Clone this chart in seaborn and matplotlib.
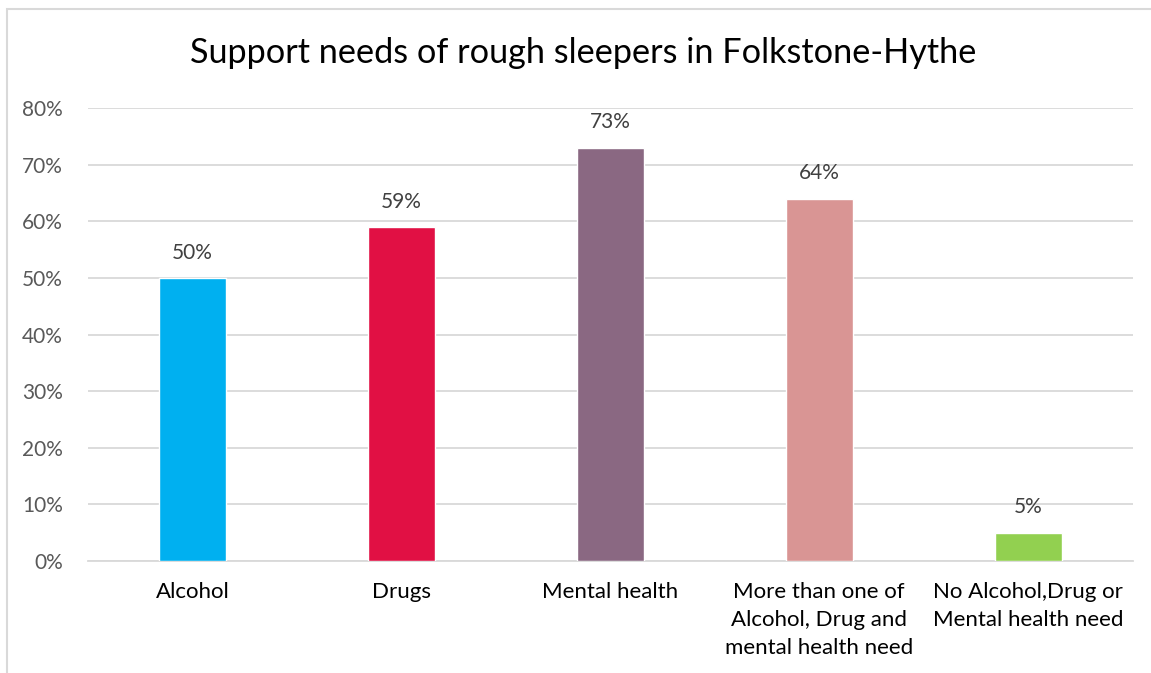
import matplotlib
matplotlib.use("Agg")
import matplotlib.pyplot as plt
from matplotlib.patches import Rectangle
from matplotlib.ticker import FuncFormatter, MultipleLocator
import seaborn as sns
import pandas as pd

categories = [
    "Alcohol",
    "Drugs",
    "Mental health",
    "More than one of\nAlcohol, Drug and\nmental health need",
    "No Alcohol,Drug or\nMental health need",
]
shares = [0.50, 0.59, 0.73, 0.64, 0.05]
bar_colors = ["#00B0F0", "#E11044", "#8A6882", "#D99594", "#92D050"]
title = "Support needs of rough sleepers in Folkstone-Hythe"

sns.set_theme(style="white")
plt.rcParams["font.family"] = ["Lato", "DejaVu Sans"]

df = pd.DataFrame({"need": categories, "share": shares})

fig = plt.figure(figsize=(11.51, 6.73), dpi=100)
ax = fig.add_axes([0.0765, 0.1664, 0.9075, 0.6731])

sns.barplot(data=df, x="need", y="share", hue="need", palette=bar_colors,
            legend=False, width=0.32, saturation=1, ax=ax, zorder=3)

ax.set_ylim(0, 0.8)
ax.set_xlim(-0.5, len(categories) - 0.5)
ax.yaxis.set_major_locator(MultipleLocator(0.1))
ax.yaxis.set_major_formatter(FuncFormatter(lambda v, _: f"{v * 100:.0f}%"))
ax.grid(axis="y", color="#D9D9D9", linewidth=1.3, zorder=0)
for side in ["top", "right", "left"]:
    ax.spines[side].set_visible(False)
ax.spines["bottom"].set_color("#D9D9D9")
ax.spines["bottom"].set_linewidth(1.3)
ax.tick_params(axis="y", length=0, pad=18, labelsize=15, labelcolor="#595959")
ax.tick_params(axis="x", length=0, pad=15, labelsize=16, labelcolor="#000000")
for lbl in ax.get_xticklabels():
    lbl.set_verticalalignment("top")
    lbl.set_linespacing(1.5)
ax.set_xlabel("")
ax.set_ylabel("")

for i, v in enumerate(shares):
    ax.annotate(f"{v * 100:.0f}%", (i, v), xytext=(0, 11), textcoords="offset points",
                ha="center", va="bottom", fontsize=15, color="#404040")

fig.text(0.507, 0.921, title, ha="center", va="center", fontsize=24.7, color="#000000")

# chart frame
fig.patches.append(Rectangle((7 / 1151, -0.05), 1.1, 1.05 - 9 / 673,
                             transform=fig.transFigure, fill=False,
                             edgecolor="#D9D9D9", linewidth=1.5))

fig.savefig("out.png", dpi=100)
